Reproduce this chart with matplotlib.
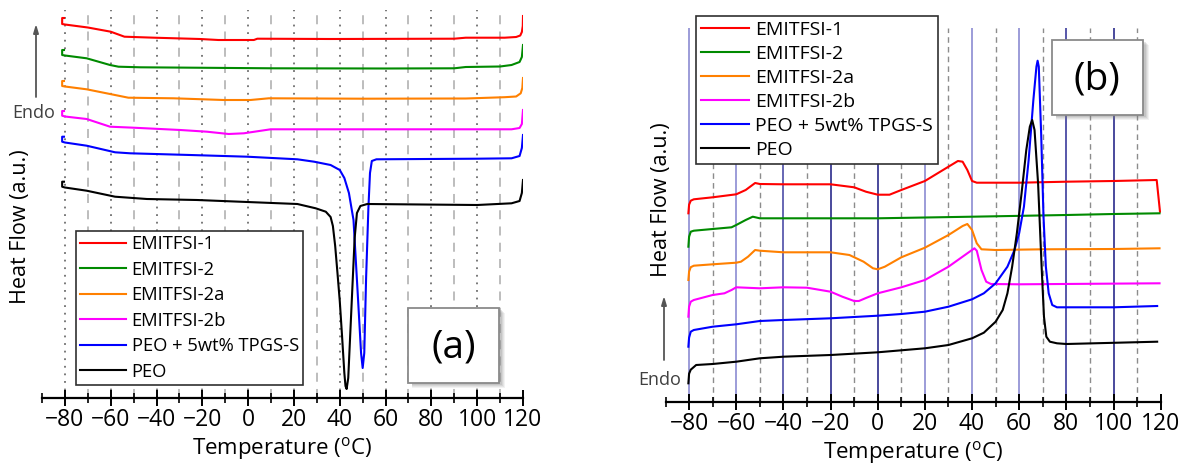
import matplotlib
matplotlib.use("Agg")
import matplotlib.pyplot as plt
from matplotlib.patches import Rectangle
import numpy as np

plt.rcParams['font.family'] = ['Open Sans', 'DejaVu Sans']
plt.rcParams['mathtext.fontset'] = 'custom'
plt.rcParams['mathtext.rm'] = 'Open Sans'

W, H = 1180, 466

# ---------------- data (temperature in degC, heat flow in a.u.) ----------------
labels = ["EMITFSI-1", "EMITFSI-2", "EMITFSI-2a", "EMITFSI-2b", "PEO + 5wt% TPGS-S", "PEO"]
colors = ["#ff0000", "#008a00", "#ff8000", "#ff00ff", "#0000ff", "#000000"]

red_a_T = [-80.4, -81.2, -81.2, -80, -70, -60, -54, -41, -21, -13, 2.5, 4, 36, 90, 95, 112, 117, 118.8, 119.5, 119.9, 120]
red_a_h = [380, 380, 374, 373.5, 370.5, 366.3, 361.3, 360.3, 359, 358, 358, 359.3, 359, 359.3, 360.3, 360.3, 361, 362.5, 366, 372, 382]
green_a_T = [-80.4, -81.2, -81.2, -80, -70.5, -60.3, -56.6, -47, 11, 60, 90, 95, 110, 115, 118.5, 119.5, 120]
green_a_h = [348, 348, 343, 342.5, 339.7, 333, 331.3, 330.7, 329.7, 329.5, 329.7, 331, 331.5, 333, 336, 341, 353]
orange_a_T = [-80.4, -81.2, -81.2, -80, -70.5, -60.3, -52.3, -32.6, -10.7, 1, 9, 50, 95, 112, 117, 119, 119.7, 120]
orange_a_h = [317, 317, 312, 311.5, 308.7, 304, 300.3, 299.7, 298, 298, 299.7, 299.3, 299.5, 300.8, 301.5, 304.7, 310, 320]
magenta_a_T = [-80.4, -81.2, -81.2, -80, -70.5, -60.3, -50, -29.6, -18, -8.5, -1.9, 9.8, 50, 115, 118.5, 119.5, 120]
magenta_a_h = [287, 287, 282.3, 281.5, 279, 271.3, 270.3, 268, 266.3, 264, 264.7, 268.7, 268.7, 268.7, 270, 274, 288]
blue_a_T = [-80.4, -81.2, -81.2, -80, -70.5, -58.1, -51.5, -25.3, -0.4, 21.5, 28.8, 36, 40, 42, 44, 46, 48,
            49.3, 50, 50.7, 51.5, 52.5, 53.2, 54, 56, 100, 115, 118.5, 119.5, 120]
blue_a_h = [261.3, 261.3, 256.3, 255.5, 252.3, 245.7, 244.7, 243, 241.3, 238.7, 236.3, 233, 228, 220, 205, 178, 98,
            45, 30, 45, 120, 190, 225, 237, 238.7, 239.3, 239.7, 242, 250, 263]
black_a_T = [-80.4, -81.2, -81.2, -80, -70.5, -58.1, -44.2, -22.3, -0.4, 21.5, 29.5, 33.9, 36, 37, 38, 39, 40, 41, 42,
             42.5, 43, 43.7, 44.5, 45.5, 46.5, 47.5, 49, 52, 100, 115, 118.5, 119.5, 120]
black_a_h = [216.3, 216.3, 211.3, 210.5, 207.3, 201.3, 199, 198, 196, 194, 189.7, 186.3, 181, 172, 152, 125, 97, 62, 25,
             12, 9, 20, 60, 110, 160, 185, 192, 194, 193, 194.7, 197, 205, 218]

red_b_T = [-80.3, -80, -79.3, -78, -70, -60, -56, -52, -50, -40, -20, -10, -5, 0, 5, 10, 20, 30, 34, 36, 38, 40, 42,
           60, 80, 100, 118.3, 119.7]
red_b_h = [188.4, 197, 201, 202.4, 204.4, 207.4, 211.7, 218.7, 217.7, 217.4, 217.4, 214.4, 210, 207, 207, 211.7,
           220.7, 235, 240.7, 240, 231.7, 220.7, 219, 219, 220, 220.7, 221.7, 190]
green_b_T = [-80.3, -80, -79.3, -78, -70, -62, -60, -56, -53, -50, -20, 0, 40, 80, 100, 119.5]
green_b_h = [155, 165, 170, 171, 172.7, 174.4, 176.7, 181.7, 185, 183.4, 183.4, 183.4, 185, 186.7, 187.7, 188.4]
orange_b_T = [-80.3, -80, -79.3, -78, -70, -60, -58, -55, -52, -50, -40, -20, -12, -6, -2, 0, 3, 10, 20, 30, 36,
              38, 40, 42, 44, 50, 70, 100, 119.5]
orange_b_h = [121.7, 130, 134.5, 136, 137.4, 139, 140, 145, 151.7, 151, 149.4, 149.4, 146.7, 140, 133.4, 132.4, 135,
              144.4, 154, 166.7, 175.7, 177.7, 171.7, 158.4, 152.4, 151.7, 152.4, 152.7, 153.4]
magenta_b_T = [-80.3, -80, -79.3, -78, -70, -65, -62, -60, -50, -40, -30, -20, -15, -10, -8, -5, 0, 10, 20, 30, 38,
               41, 42, 44, 46, 48, 60, 119.5]
magenta_b_h = [85, 95, 100, 101.7, 106.7, 108.4, 111.7, 114.4, 113.4, 114.4, 114, 110, 105, 100.7, 100.7, 103.7,
               108.4, 114.4, 121.7, 135, 148.4, 153.4, 151, 131.7, 120, 117.7, 117.4, 118.4]
blue_b_T = [-80.3, -80, -79.3, -78, -70, -60, -50, -40, -20, 0, 10, 20, 30, 40, 45, 50, 55, 58, 60, 62, 64, 66,
            67.3, 67.8, 68.3, 69.3, 70.3, 71.3, 72.5, 74, 76, 100, 118.5]
blue_b_h = [55, 64, 70, 71.7, 75, 77.4, 80.7, 81.7, 83.4, 86, 87.7, 90, 95, 102.4, 108.4, 118.4, 135, 151.7, 168.7,
            195, 241.7, 301.7, 335, 341, 335, 268.4, 185, 135, 108.4, 96.7, 94.4, 94.4, 95.7]
black_b_T = [-80.3, -80, -79.3, -77, -70, -60, -50, -40, -20, 0, 20, 30, 40, 45, 50, 53, 55, 57, 59, 61, 63, 64.5,
             65.5, 66.5, 68, 69.5, 70.5, 71.5, 73, 76, 80, 118.5]
black_b_h = [18.4, 28, 32, 36.7, 37.7, 40, 43.4, 45, 46.7, 49.4, 53.4, 56.7, 63.4, 69, 80, 91.7, 108.4, 135, 168.4,
             208.4, 251.7, 275, 281.7, 271.7, 218.4, 135, 85, 65, 60, 58.4, 57.7, 60]

series_a = [(red_a_T, red_a_h), (green_a_T, green_a_h), (orange_a_T, orange_a_h),
            (magenta_a_T, magenta_a_h), (blue_a_T, blue_a_h), (black_a_T, black_a_h)]
series_b = [(red_b_T, red_b_h), (green_b_T, green_b_h), (orange_b_T, orange_b_h),
            (magenta_b_T, magenta_b_h), (blue_b_T, blue_b_h), (black_b_T, black_b_h)]

major_ticks = [-80, -60, -40, -20, 0, 20, 40, 60, 80, 100, 120]
minor_ticks = [-90, -70, -50, -30, -10, 10, 30, 50, 70, 90, 110]
grid_b_colors = ["#9494d6", "#9494d6", "#5a5aae", "#3c3c94", "#3c3c94", "#9494d6", "#9494d6", "#9494d6",
                 "#4a4aa4", "#3c3c94"]

# ---------------- figure ----------------
fig = plt.figure(figsize=(W / 100, H / 100), dpi=100)


def fx(x):
    return x / W


def fy(y):
    return 1 - y / H


def make_axes(x0, x1, y_top, y_bot, ytop_val):
    ax = fig.add_axes([fx(x0), fy(y_bot), fx(x1 - x0), (y_bot - y_top) / H])
    ax.set_xlim(-90, 120)
    ax.set_ylim(0, ytop_val)
    for s in ['top', 'right', 'left']:
        ax.spines[s].set_visible(False)
    ax.spines['bottom'].set_linewidth(1.6)
    ax.set_yticks([])
    ax.set_xticks(major_ticks)
    ax.set_xticks(minor_ticks, minor=True)
    ax.tick_params(axis='x', which='major', direction='inout', length=11, width=1.4, labelsize=16.5, pad=2)
    ax.tick_params(axis='x', which='minor', direction='inout', length=7, width=1.2)
    ax.set_xlabel('Temperature ($^{\\mathrm{o}}$C)', fontsize=16, labelpad=2)
    ax.patch.set_alpha(0)
    return ax


def shadow_box(ax_fig_x0, y0, x1, y1, text):
    # drop shadow
    for i, a in enumerate([0.10, 0.12, 0.15, 0.2]):
        off = 5 - i
        r = Rectangle((fx(ax_fig_x0 + 4), fy(y1 + off)), fx(x1 - ax_fig_x0 + off - 4 + 1), (y1 - y0) / H,
                      transform=fig.transFigure, facecolor='#808080', edgecolor='none', alpha=a, zorder=20)
        fig.patches.append(r)
    box = Rectangle((fx(ax_fig_x0), fy(y1)), fx(x1 - ax_fig_x0), (y1 - y0) / H, transform=fig.transFigure,
                    facecolor='white', edgecolor='#8a8a8a', linewidth=1.3, zorder=21)
    fig.patches.append(box)
    fig.text(fx((ax_fig_x0 + x1) / 2), fy((y0 + y1) / 2 + 2), text, fontsize=28, ha='center', va='center',
             zorder=22)


legend_kw = dict(frameon=True, fancybox=False, edgecolor='#303030', framealpha=1,
                 borderpad=0.25, handlelength=2.5, handletextpad=0.3, borderaxespad=0)

# ---------------- panel (a) ----------------
axa = make_axes(42, 523, 10, 398, 388)
for t in major_ticks[:-1]:
    axa.axvline(t, color='#6e6e6e', lw=1.3, ls=(0, (1, 3.2)), zorder=0)
for t in minor_ticks[1:]:
    axa.axvline(t, color='#b8b8b8', lw=1.3, ls=(0, (5, 4)), zorder=0)
for (T, h), c, lab in zip(series_a, colors, labels):
    axa.plot(T, h, color=c, lw=1.5, label=lab, zorder=3, solid_joinstyle='round')
leg_a = axa.legend(loc='upper left', bbox_to_anchor=(fx(75.6), fy(230.7)), bbox_transform=fig.transFigure,
                   fontsize=13.2, labelspacing=0.41, **legend_kw)
leg_a.get_frame().set_linewidth(1.2)
leg_a.set_zorder(10)
fig.text(fx(20.5), fy(227), 'Heat Flow (a.u.)', rotation=90, fontsize=15.5, ha='center', va='center')
fig.text(fx(34), fy(113), 'Endo', fontsize=13, ha='center', va='center', color='#404040')
axa.annotate('', xy=(fx(36), fy(24)), xytext=(fx(36), fy(97)), xycoords='figure fraction',
             textcoords='figure fraction',
             arrowprops=dict(arrowstyle='-|>,head_length=0.5,head_width=0.15', color='#555555', lw=1.3,
                             shrinkA=0, shrinkB=0))
shadow_box(408, 308, 499, 383, '(a)')

# ---------------- panel (b) ----------------
axb = make_axes(665.5, 1160.7, 28, 401.7, 373.7)
for t, gc in zip(major_ticks[:-1], grid_b_colors):
    axb.axvline(t, color=gc, lw=1.3, ls='-', zorder=0)
for t in minor_ticks[1:]:
    axb.axvline(t, color='#8c8c8c', lw=1.0, ls=(0, (4, 3)), zorder=0)
for (T, h), c, lab in zip(series_b, colors, labels):
    axb.plot(T, h, color=c, lw=1.5, label=lab, zorder=3, solid_joinstyle='round')
leg_b = axb.legend(loc='upper left', bbox_to_anchor=(fx(695.8), fy(16)), bbox_transform=fig.transFigure,
                   fontsize=14, labelspacing=0.31, **legend_kw)
leg_b.get_frame().set_linewidth(1.2)
leg_b.set_zorder(10)
fig.text(fx(662), fy(200), 'Heat Flow (a.u.)', rotation=90, fontsize=15.5, ha='center', va='center')
fig.text(fx(660), fy(380), 'Endo', fontsize=13, ha='center', va='center', color='#404040')
axb.annotate('', xy=(fx(664), fy(296)), xytext=(fx(664), fy(360)), xycoords='figure fraction',
             textcoords='figure fraction',
             arrowprops=dict(arrowstyle='-|>,head_length=0.5,head_width=0.15', color='#555555', lw=1.3,
                             shrinkA=0, shrinkB=0))
shadow_box(1052, 40, 1142.5, 115, '(b)')

fig.savefig('out.png', dpi=100)
